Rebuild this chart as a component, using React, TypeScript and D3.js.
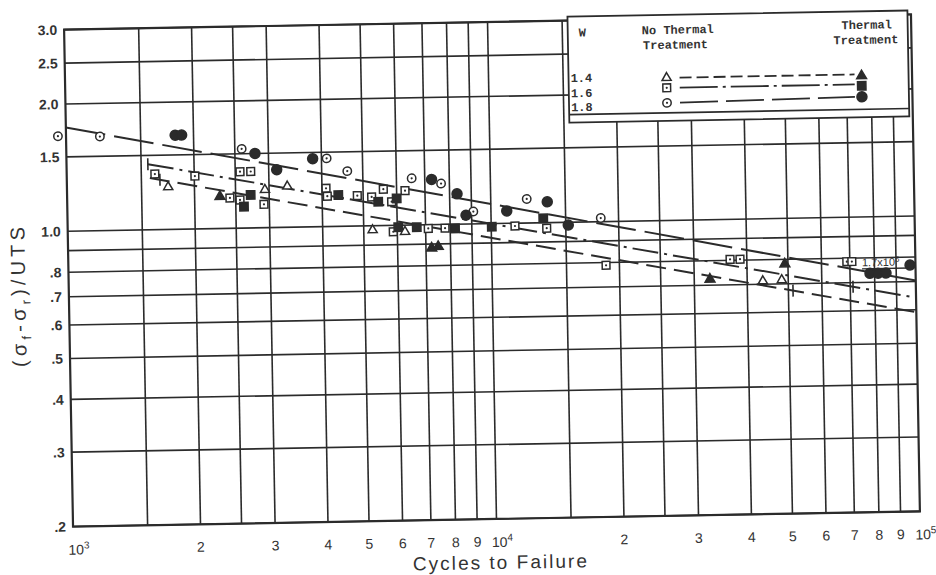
import React, { useEffect, useRef } from 'react';
import * as d3 from 'd3';

// [cycles to failure, (sf - sr)/UTS]
const openTriangles = [[1734, 1.26], [2933, 1.23], [3313, 1.25], [5247, 0.977], [6256, 0.965], [43550, 0.712], [48270, 0.715]];
const filledTriangles = [[2295, 1.19], [7220, 0.88], [7483, 0.887], [32680, 0.723], [49160, 0.78]];
const openSquares = [
    [1615, 1.354], [2007, 1.334], [2566, 1.36], [2720, 1.36], [2423, 1.18], [2559, 1.166], [2914, 1.136],
    [4089, 1.232], [4115, 1.18], [4844, 1.18], [5236, 1.17], [5583, 1.219], [5834, 1.138], [6281, 1.207],
    [5869, 0.966], [7101, 0.98], [7780, 0.98], [11380, 0.985], [13520, 0.97], [18600, 0.788],
    [36520, 0.804], [38550, 0.804], [68870, 0.785], [70790, 0.785]
];
const filledSquares = [[2613, 1.124], [2713, 1.197], [4369, 1.186], [5998, 1.158], [5424, 1.139], [6034, 0.99], [6671, 0.988], [8213, 0.978], [10030, 0.983], [13280, 1.024]];
const openCircles = [[957, 1.68], [1202, 1.67], [2595, 1.54], [4115, 1.45], [4598, 1.35], [6520, 1.29], [7646, 1.25], [9087, 1.07], [12162, 1.14], [18155, 1.02]];
const filledCircles = [
    [1810, 1.67], [1875, 1.67], [2788, 1.5], [3133, 1.37], [3813, 1.45], [7263, 1.28], [8331, 1.18], [8730, 1.05],
    [10897, 1.07], [13595, 1.12], [15205, 0.985], [78040, 0.735], [81520, 0.735], [85130, 0.735], [97100, 0.766]
];

// fitted lines, one per W
const fitW14 = [[1571, 1.326], [1e5, 0.592]];
const fitW16 = [[1556, 1.43], [1e5, 0.641]];
const fitW18 = [[1000, 1.76], [1e5, 0.704]];
const ticksW14 = [1659, 51270];
const ticksW16 = [1556, 71070];

const yTickValues = [3, 2.5, 2, 1.5, 1, 0.9, 0.8, 0.7, 0.6, 0.5, 0.4, 0.3, 0.2];
const yTickLabels = ['3.0', '2.5', '2.0', '1.5', '1.0', '', '.8', '.7', '.6', '.5', '.4', '.3', '.2'];
const xGridFactors = [1.5, 2, 2.5, 3, 4, 5, 6, 7, 8, 9];
const xLabelFactors = [2, 3, 4, 5, 6, 7, 8, 9];
const decades = [1e3, 1e4];
const decadeExponents = ['3', '4', '5'];
const legendWs = ['1.4', '1.6', '1.8'];

export default function App() {
    const svgRef = useRef(null);

    useEffect(() => {
        const W = 936, H = 575;
        const L = 68.5, R = 915.5, T = 22, B = 519;
        const ink = '#2b2b2b';
        const x = d3.scaleLog().domain([1e3, 1e5]).range([L, R]);
        const y = d3.scaleLog().domain([0.2, 3]).range([B, T]);

        const svg = d3.select(svgRef.current).attr('width', W).attr('height', H).html('');
        svg.append('rect').attr('width', W).attr('height', H).attr('fill', '#ffffff');
        // the scanned sheet sits slightly tilted
        const g = svg.append('g').attr('transform', `rotate(-1.03, ${(L + R) / 2}, ${(T + B) / 2})`);

        // grid
        yTickValues.forEach(v => {
            g.append('line').attr('x1', L).attr('x2', R).attr('y1', y(v)).attr('y2', y(v))
                .attr('stroke', ink).attr('stroke-width', 1.6);
        });
        decades.forEach(d => {
            xGridFactors.forEach(f => {
                g.append('line').attr('x1', x(d * f)).attr('x2', x(d * f)).attr('y1', T).attr('y2', B)
                    .attr('stroke', ink).attr('stroke-width', 1.6);
            });
        });
        g.append('line').attr('x1', x(1e4)).attr('x2', x(1e4)).attr('y1', T).attr('y2', B)
            .attr('stroke', ink).attr('stroke-width', 1.6);
        g.append('rect').attr('x', L).attr('y', T).attr('width', R - L).attr('height', B - T)
            .attr('fill', 'none').attr('stroke', ink).attr('stroke-width', 2.2);

        // tick labels
        const sans = "'Liberation Sans', Arial, sans-serif";
        yTickValues.forEach((v, i) => {
            if (!yTickLabels[i]) return;
            g.append('text').attr('x', L - 7).attr('y', y(v)).attr('dy', '0.36em')
                .attr('text-anchor', 'end').attr('font-family', sans).attr('font-size', 14)
                .attr('font-weight', 'bold').attr('fill', '#333').text(yTickLabels[i]);
        });
        decades.forEach(d => {
            xLabelFactors.forEach(f => {
                g.append('text').attr('x', x(d * f)).attr('y', B + 27.5).attr('text-anchor', 'middle')
                    .attr('font-family', sans).attr('font-size', 14).attr('fill', '#333').text(f);
            });
        });
        [1e3, 1e4, 1e5].forEach((d, i) => {
            const t = g.append('text').attr('x', x(d) - 5).attr('y', B + 28)
                .attr('font-family', sans).attr('font-size', 14).attr('fill', '#333');
            t.append('tspan').text('10');
            t.append('tspan').attr('dy', -6).attr('font-size', 10).text(decadeExponents[i]);
        });

        // axis titles
        g.append('text').attr('x', 494.7).attr('y', 569).attr('text-anchor', 'middle')
            .attr('font-family', sans).attr('font-size', 19).attr('fill', '#333')
            .attr('textLength', 174).attr('lengthAdjust', 'spacing').text('Cycles to Failure');
        const yl = g.append('text').attr('transform', 'translate(25,288.5) rotate(-90)')
            .attr('text-anchor', 'middle').attr('font-family', sans).attr('font-size', 20).attr('fill', '#333')
            .attr('textLength', 140).attr('lengthAdjust', 'spacing');
        yl.append('tspan').text('(σ');
        yl.append('tspan').attr('dy', 5).attr('font-size', 13).text('f');
        yl.append('tspan').attr('dy', -5).text('-σ');
        yl.append('tspan').attr('dy', 5).attr('font-size', 13).text('r');
        yl.append('tspan').attr('dy', -5).text(')/UTS');

        // fitted lines
        const line = d3.line().x(d => x(d[0])).y(d => y(d[1]));
        const fits = [
            { data: fitW18, dash: '40,9' },
            { data: fitW16, dash: '26,6,3,6' },
            { data: fitW14, dash: '20,8' }
        ];
        fits.forEach(f => {
            g.append('path').attr('d', line(f.data)).attr('fill', 'none').attr('stroke', ink)
                .attr('stroke-width', 2).attr('stroke-dasharray', f.dash);
        });
        const fitAt = (fit, n) => {
            const [[n0, v0], [n1, v1]] = fit;
            const b = Math.log(v1 / v0) / Math.log(n1 / n0);
            return v0 * Math.pow(n / n0, b);
        };
        [[fitW16, ticksW16], [fitW14, ticksW14]].forEach(([fit, ticks]) => {
            ticks.forEach(n => {
                const px = x(n), py = y(fitAt(fit, n));
                g.append('line').attr('x1', px).attr('x2', px).attr('y1', py - 6).attr('y2', py + 6)
                    .attr('stroke', ink).attr('stroke-width', 1.6);
            });
        });

        // markers
        const marker = (px, py, shape, filled) => {
            if (shape === 'circle') {
                g.append('circle').attr('cx', px).attr('cy', py).attr('r', filled ? 5 : 4.2)
                    .attr('fill', filled ? ink : '#fff').attr('stroke', ink).attr('stroke-width', 1.5);
            } else {
                const type = shape === 'square' ? d3.symbolSquare : d3.symbolTriangle;
                const size = shape === 'square' ? (filled ? 70 : 60) : (filled ? 42 : 36);
                g.append('path').attr('d', d3.symbol().type(type).size(size)())
                    .attr('transform', `translate(${px},${py})`)
                    .attr('fill', filled ? ink : '#fff').attr('stroke', ink).attr('stroke-width', 1.5);
            }
            if (!filled && shape !== 'triangle') {
                g.append('circle').attr('cx', px).attr('cy', py).attr('r', 1.1).attr('fill', ink);
            }
        };
        const series = [
            { data: openSquares, shape: 'square', filled: false },
            { data: filledSquares, shape: 'square', filled: true },
            { data: openTriangles, shape: 'triangle', filled: false },
            { data: filledTriangles, shape: 'triangle', filled: true },
            { data: openCircles, shape: 'circle', filled: false },
            { data: filledCircles, shape: 'circle', filled: true }
        ];
        series.forEach(s => s.data.forEach(d => marker(x(d[0]), y(d[1]), s.shape, s.filled)));

        // 1.7x10^5 note
        const note = g.append('text').attr('x', 862).attr('y', 273).attr('font-family', sans)
            .attr('font-size', 11).attr('fill', '#333');
        note.append('tspan').text('1.7x10');
        note.append('tspan').attr('dy', -4).attr('font-size', 8).text('5');
        g.append('line').attr('x1', 862).attr('x2', 909).attr('y1', 275.5).attr('y2', 275.5)
            .attr('stroke', ink).attr('stroke-width', 1.4);

        // legend
        const mono = "'Liberation Mono', 'Courier New', monospace";
        g.append('rect').attr('x', 572).attr('y', 18).attr('width', 340).attr('height', 106)
            .attr('fill', '#fff').attr('stroke', ink).attr('stroke-width', 1.8);
        g.append('line').attr('x1', 572).attr('x2', 912).attr('y1', 116).attr('y2', 116)
            .attr('stroke', ink).attr('stroke-width', 1.6);
        const legText = (tx, ty, s, anchor = 'start') => g.append('text').attr('x', tx).attr('y', ty)
            .attr('text-anchor', anchor).attr('font-family', mono).attr('font-size', 12)
            .attr('font-weight', 'bold').attr('fill', '#333').text(s);
        legText(583, 38, 'W');
        legText(646, 37, 'No Thermal');
        legText(647, 52, 'Treatment');
        legText(871, 35.5, 'Thermal', 'middle');
        legText(870, 50.5, 'Treatment', 'middle');
        const legRows = [
            { y: 81, shape: 'triangle', dash: '12,5', label: 83.5 },
            { y: 91, shape: 'square', dash: '38,5,3,5', label: 98.6 },
            { y: 106, shape: 'circle', dash: '38,8', label: 112.6 }
        ];
        legRows.forEach((r, i) => {
            legText(574, r.label, legendWs[i]);
            g.append('line').attr('x1', 683).attr('x2', 858).attr('y1', r.y).attr('y2', r.shape === 'circle' ? r.y - 2.5 : r.y)
                .attr('stroke', ink).attr('stroke-width', 1.8).attr('stroke-dasharray', r.dash);
            marker(670, r.y, r.shape, false);
            marker(865, r.shape === 'circle' ? r.y - 2.5 : r.y + 1.5, r.shape, true);
        });
    }, []);

    return <svg ref={svgRef} style={{ position: 'absolute', left: 0, top: 0 }} />;
}
